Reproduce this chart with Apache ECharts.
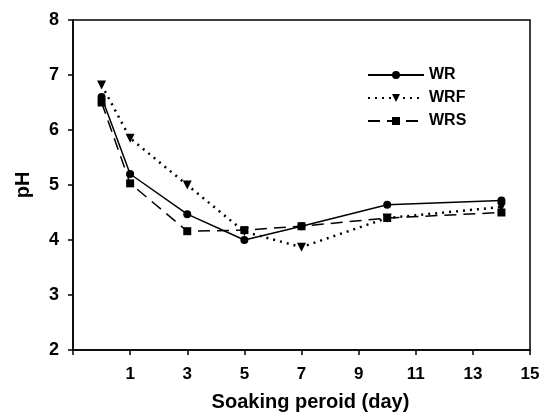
<!DOCTYPE html>
<html><head><meta charset="utf-8">
<script src="https://cdn.jsdelivr.net/npm/echarts@6/dist/echarts.min.js"></script>
<style>html,body{margin:0;padding:0;background:#fff}#c{width:550px;height:419px}</style>
</head><body><div id="c"></div>
<script>
const days = [0, 1, 3, 5, 7, 10, 14];
const wr  = [6.6, 5.2, 4.47, 4.0, 4.25, 4.64, 4.72];
const wrf = [6.82, 5.85, 5.0, 4.15, 3.87, 4.4, 4.6];
const wrs = [6.5, 5.03, 4.16, 4.18, 4.25, 4.4, 4.5];
const xTickLabels = ['1','3','5','7','9','11','13','15'];
const seriesNames = ['WR','WRF','WRS'];

const pair = (ys) => days.map((d, i) => [d, ys[i]]);
const font = 'Liberation Sans, Arial, sans-serif';
const chart = echarts.init(document.getElementById('c'), null, {renderer:'canvas'});
const common = {type:'line', symbolSize:8, z:3, itemStyle:{color:'#000'}};
chart.setOption({
  animation:false,
  backgroundColor:'#fff',
  grid:{left:73, right:20, top:20, bottom:69, show:true, borderColor:'#000', borderWidth:1.5, backgroundColor:'transparent'},
  legend:{
    left:362, top:62, orient:'vertical', itemWidth:56, itemHeight:10, itemGap:7,
    textStyle:{fontFamily:font, fontWeight:'bold', fontSize:16, color:'#000'},
    data: seriesNames
  },
  xAxis:{
    type:'value', min:-1, max:15, interval:2,
    name:'Soaking peroid (day)', nameLocation:'middle', nameGap:42,
    nameTextStyle:{fontFamily:font, fontWeight:'bold', fontSize:20, color:'#000', padding:[0,0,0,18]},
    axisLine:{onZero:false, lineStyle:{color:'#000', width:1.5}},
    axisTick:{inside:false, length:5, lineStyle:{color:'#000', width:1.5}},
    axisLabel:{margin:16, fontFamily:font, fontWeight:'bold', fontSize:17, color:'#000',
      formatter:(v)=> xTickLabels.indexOf(String(v))>=0 ? String(v) : ''},
    splitLine:{show:false}
  },
  yAxis:{
    type:'value', min:2, max:8, interval:1,
    name:'pH', nameLocation:'middle', nameGap:40, nameRotate:90,
    nameTextStyle:{fontFamily:font, fontWeight:'bold', fontSize:20, color:'#000'},
    axisLine:{show:true, onZero:false, lineStyle:{color:'#000', width:1.5}},
    axisTick:{show:true, inside:false, length:5, lineStyle:{color:'#000', width:1.5}},
    axisLabel:{margin:14, fontFamily:font, fontWeight:'bold', fontSize:18, color:'#000'},
    splitLine:{show:false}
  },
  series:[
    Object.assign({}, common, {name:seriesNames[0], data:pair(wr), symbol:'circle',
      lineStyle:{color:'#000', width:1.5, type:'solid'}}),
    Object.assign({}, common, {name:seriesNames[1], data:pair(wrf), symbol:'triangle', symbolRotate:180, symbolSize:9,
      lineStyle:{color:'#000', width:2.5, type:[2,5]}}),
    Object.assign({}, common, {name:seriesNames[2], data:pair(wrs), symbol:'rect',
      lineStyle:{color:'#000', width:1.5, type:[12,7]}})
  ]
});
</script></body></html>
